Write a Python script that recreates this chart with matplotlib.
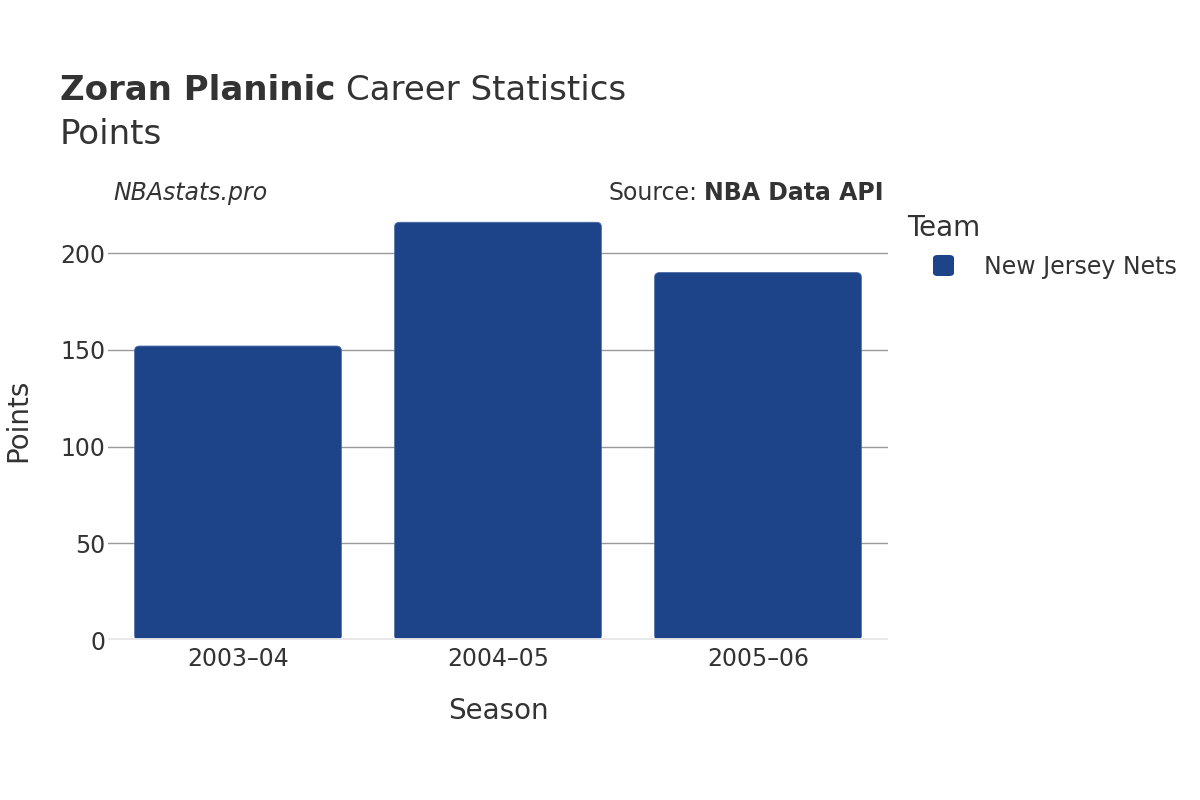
import matplotlib.pyplot as plt
from matplotlib.patches import FancyBboxPatch

seasons = ['2003–04', '2004–05', '2005–06']
points = [152, 216, 190]
team = 'New Jersey Nets'
bar_color = '#1d4388'
yticks = [0, 50, 100, 150, 200]

plt.rcParams['font.family'] = ['DejaVu Sans']
txt = '#333333'

fig = plt.figure(figsize=(12, 8), dpi=100)
# plot area in pixels: x 108..888, y 201..640 (from top)
ax = fig.add_axes([108 / 1200, 160 / 800, 780 / 1200, 439 / 800])

bars = ax.bar(range(len(seasons)), points, width=0.795, color=bar_color,
              edgecolor='#4a6aa5', linewidth=0.6, zorder=3)

# round the bar tops a little
for b in bars:
    x, y = b.get_x(), b.get_y()
    w, h = b.get_width(), b.get_height()
    b.set_visible(False)
    p = FancyBboxPatch((x, y), w, h, boxstyle='round,pad=0,rounding_size=0.02',
                       mutation_aspect=110, facecolor=bar_color,
                       edgecolor='#4a6aa5', linewidth=0.6, zorder=3)
    ax.add_patch(p)
    ax.add_patch(plt.Rectangle((x, y), w, h * 0.5, facecolor=bar_color,
                               edgecolor='none', zorder=3))

ax.set_xlim(-0.5, len(seasons) - 0.5)
ax.set_ylim(0, 227)
ax.set_yticks(yticks)
ax.set_xticks(range(len(seasons)))
ax.set_xticklabels(seasons)
ax.grid(axis='y', color='#999999', linewidth=1, zorder=0)
ax.axhline(0, color='#e8e8e8', linewidth=3.5, zorder=4)
for s in ax.spines.values():
    s.set_visible(False)
ax.tick_params(axis='both', length=0, labelsize=17, colors=txt)
ax.tick_params(axis='x', pad=5)
ax.tick_params(axis='y', pad=2)

ax.set_xlabel('Season', fontsize=20, color=txt, labelpad=19)
ax.set_ylabel('Points', fontsize=20, color=txt, labelpad=20)

renderer = fig.canvas.get_renderer()
t1 = fig.text(60 / 1200, 1 - 91 / 800, 'Zoran Planinic', fontsize=24.5,
              fontweight='bold', color=txt, va='center')
bb = t1.get_window_extent(renderer)
fig.text((bb.x1 + 11) / 1200, 1 - 91 / 800, 'Career Statistics', fontsize=24.5,
         color=txt, va='center')
fig.text(60 / 1200, 1 - 135 / 800, 'Points', fontsize=24.5, color=txt, va='center')

fig.text(113 / 1200, 1 - 193 / 800, 'NBAstats.pro', fontsize=17, style='italic',
         color=txt, va='center')
t2 = fig.text(884 / 1200, 1 - 193 / 800, 'NBA Data API', fontsize=17,
              fontweight='bold', color=txt, va='center', ha='right')
bb = t2.get_window_extent(renderer)
fig.text((bb.x0 - 7) / 1200, 1 - 193 / 800, 'Source:', fontsize=17, color=txt,
         va='center', ha='right')

fig.text(907 / 1200, 1 - 228 / 800, 'Team', fontsize=20, color=txt, va='center')
fig.patches.append(FancyBboxPatch((933 / 1200, 1 - 276 / 800), 21 / 1200, 21 / 800,
                                  boxstyle='round,pad=0,rounding_size=0.004',
                                  transform=fig.transFigure, facecolor=bar_color,
                                  edgecolor='none', figure=fig))
fig.text(984 / 1200, 1 - 267 / 800, team, fontsize=17, color=txt, va='center')

fig.savefig('out.png', dpi=100)
